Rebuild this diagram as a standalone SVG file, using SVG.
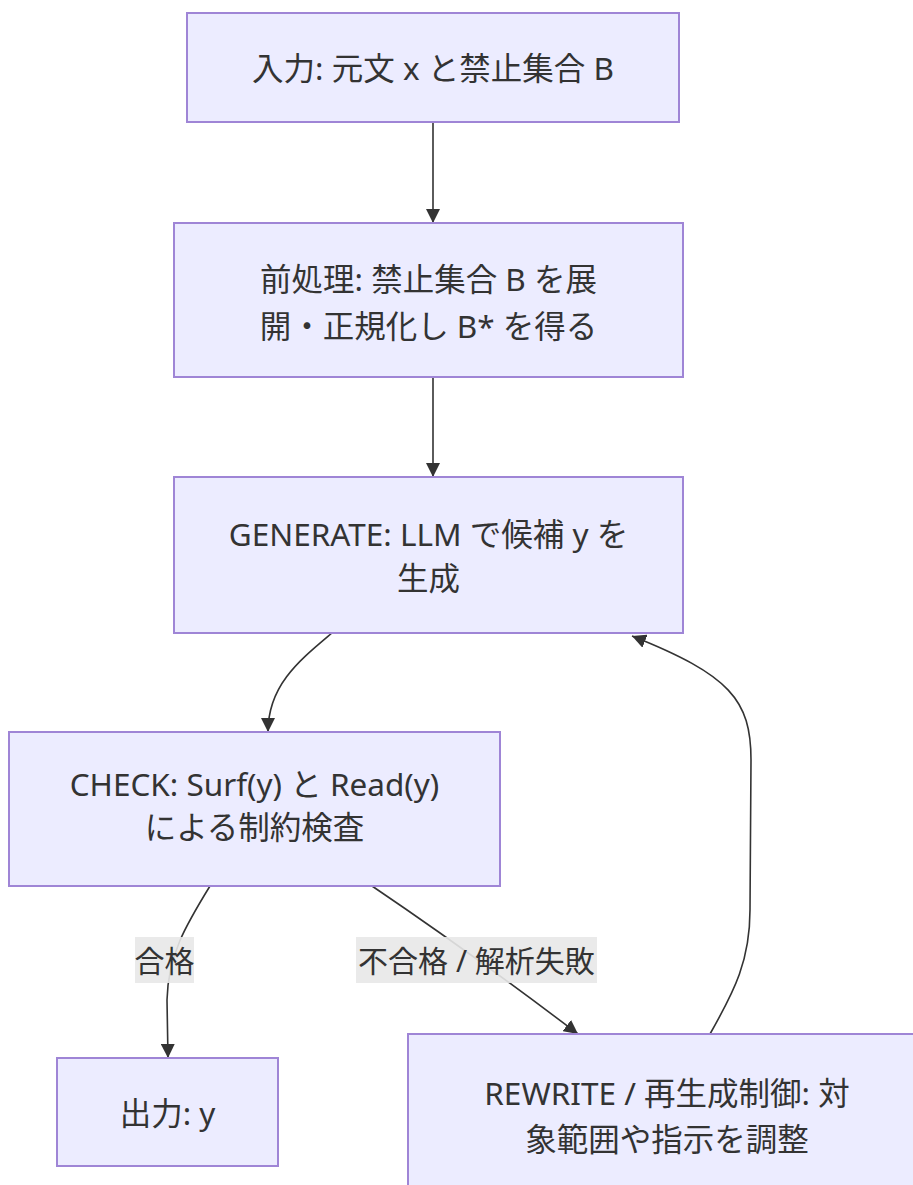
<svg xmlns="http://www.w3.org/2000/svg" width="913" height="1185" viewBox="0 0 913 1185">
  <style>
    .node rect { fill: #ECECFF; stroke: #9F85D6; stroke-width: 2; }
    .node text { fill: #333333; font-family: "Noto Sans", "Noto Sans CJK JP", sans-serif; font-size: 31.5px; text-anchor: middle; dominant-baseline: central; }
    .edge { fill: none; stroke: #333333; stroke-width: 1.6; }
    .elabel rect { fill: #E8E8E8; opacity: 0.9; }
    .elabel text { fill: #333333; font-family: "Noto Sans", "Noto Sans CJK JP", sans-serif; font-size: 30px; text-anchor: middle; dominant-baseline: central; }
  </style>
  <defs>
    <marker id="arrow" viewBox="0 0 10 10" refX="10" refY="5" markerUnits="userSpaceOnUse" markerWidth="14" markerHeight="14" orient="auto">
      <path d="M0,0 L10,5 L0,10 z" fill="#333333"/>
    </marker>
  </defs>
  <rect width="913" height="1185" fill="#FFFFFF"/>

  <g id="connectors">
    <path class="edge" d="M433,122 L433,223" marker-end="url(#arrow)"/>
    <path class="edge" d="M433,377 L433,477" marker-end="url(#arrow)"/>
    <path class="edge" d="M332,633 C300,660 268,685 268,732" marker-end="url(#arrow)"/>
    <path class="edge" d="M210,886 C186,925 168,955 167,1000 L168,1058" marker-end="url(#arrow)"/>
    <path class="edge" d="M372,886 C440,932 520,990 578,1034" marker-end="url(#arrow)"/>
    <path class="edge" d="M710,1034 C735,990 750,960 750,910 L751,760 C751,700 730,675 632,636" marker-end="url(#arrow)"/>
    <g class="elabel" id="label-pass">
      <rect x="135" y="937" width="59" height="46"/>
      <text x="164.5" y="960">合格</text>
    </g>
    <g class="elabel" id="label-fail">
      <rect x="356" y="937" width="241" height="46"/>
      <text x="476.5" y="960">不合格 / 解析失敗</text>
    </g>
  </g>

  <g class="node" id="input">
    <rect x="187" y="13" width="492" height="109"/>
    <text x="433" y="67">入力: 元文 x と禁止集合 B</text>
  </g>
  <g class="node" id="preprocess">
    <rect x="174" y="223" width="509" height="154"/>
    <text x="428.5" y="278">前処理: 禁止集合 B を展</text>
    <text x="428.5" y="325">開・正規化し B* を得る</text>
  </g>
  <g class="node" id="generate">
    <rect x="174" y="477" width="509" height="156"/>
    <text x="428.5" y="533">GENERATE: LLM で候補 y を</text>
    <text x="428.5" y="577">生成</text>
  </g>
  <g class="node" id="check">
    <rect x="9" y="732" width="491" height="154"/>
    <text x="254.5" y="783">CHECK: Surf(y) と Read(y)</text>
    <text x="254.5" y="826">による制約検査</text>
  </g>
  <g class="node" id="output">
    <rect x="57" y="1058" width="221" height="108"/>
    <text x="167.5" y="1112">出力: y</text>
  </g>
  <g class="node" id="rewrite">
    <rect x="408" y="1034" width="518" height="170"/>
    <text x="667" y="1092">REWRITE / 再生成制御: 対</text>
    <text x="667" y="1138">象範囲や指示を調整</text>
  </g>
</svg>
